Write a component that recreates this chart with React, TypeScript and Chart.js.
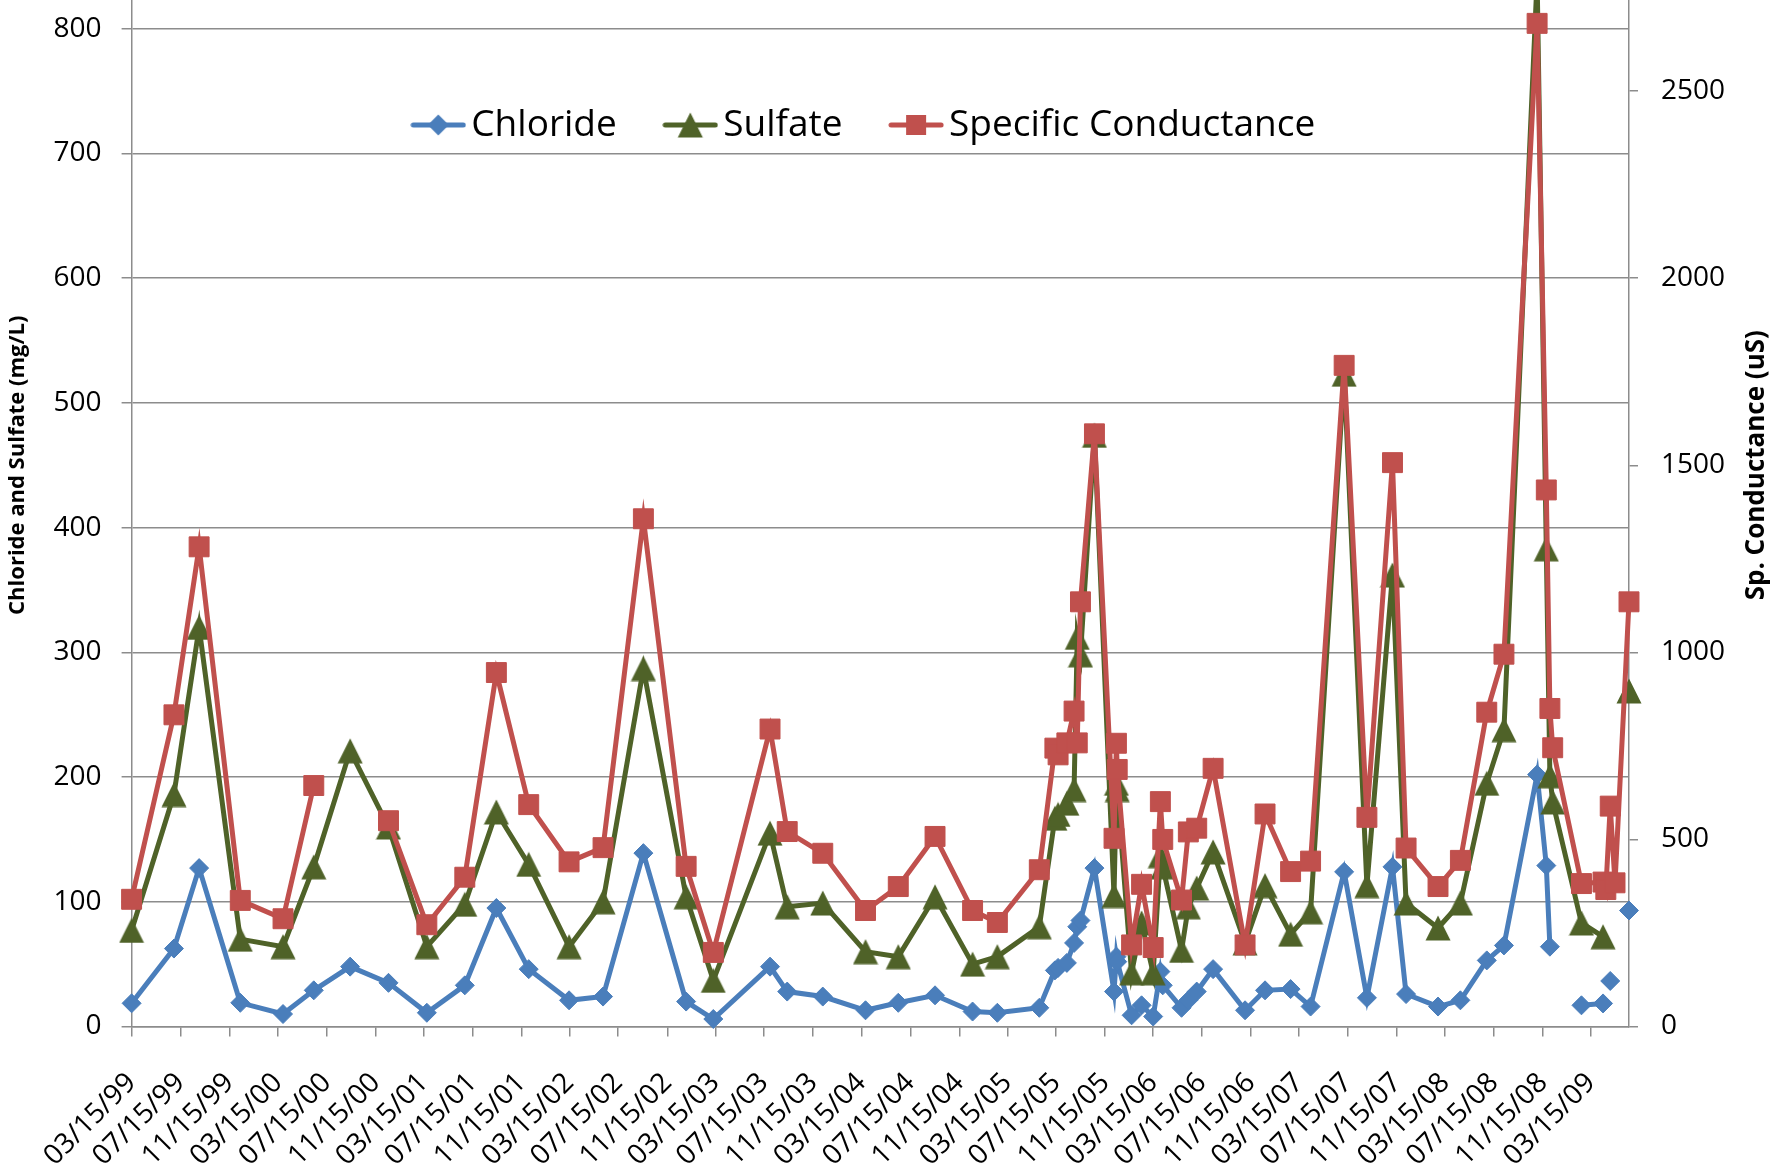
import React, { useEffect, useRef } from "react";
import { Chart, registerables } from "chart.js";

Chart.register(...registerables);

// ---------- data ----------
const sampleDates = [
  "1999-03-15", "1999-06-29", "1999-08-31", "1999-12-12", "2000-03-28", "2000-06-13",
  "2000-09-12", "2000-12-17", "2001-03-23", "2001-06-26", "2001-09-13", "2001-12-03",
  "2002-03-14", "2002-06-07", "2002-09-16", "2003-01-01", "2003-03-10", "2003-07-30",
  "2003-09-11", "2003-12-09", "2004-03-25", "2004-06-15", "2004-09-15", "2004-12-18",
  "2005-02-18", "2005-06-03", "2005-07-12", "2005-07-20", "2005-08-11", "2005-08-29",
  "2005-09-06", "2005-09-14", "2005-10-19", "2005-12-07", "2005-12-13", "2005-12-15",
  "2006-01-20", "2006-02-14", "2006-03-15", "2006-04-02", "2006-04-08", "2006-05-25",
  "2006-06-11", "2006-07-02", "2006-08-12", "2006-10-31", "2006-12-20", "2007-02-22",
  "2007-04-13", "2007-07-06", "2007-09-01", "2007-11-04", "2007-12-08", "2008-02-26",
  "2008-04-22", "2008-06-27", "2008-08-09", "2008-10-31", "2008-11-23", "2008-12-02",
  "2008-12-09", "2009-02-19", "2009-04-14", "2009-04-21", "2009-05-02", "2009-05-14",
  "2009-06-18",
];

const chloride: (number | null)[] = [
  18.6, 62.5, 127, 19, 10, 29,
  48, 35, 11, 33, 95, 46,
  21, 24, 139, 20, 6, 48,
  28, 24, 13, 19, 25, 12,
  11, 15, 45, 47, 51, 67,
  80, 85, 127, 28, 56, 52,
  9, 17, 8, 44, 33, 15,
  21, 28, 46, 13, 29, 30,
  16, 124, 23, 128, 26, 16,
  21, 53, 65, 202, 129, 64,
  null, 17, 18.5, null, 36.5, null,
  93,
];

const sulfate: (number | null)[] = [
  77, 186, 320, 70, 64, 128,
  221, 160, 64, 98, 172, 130,
  64, 100, 287, 104, 37, 155,
  96, 99, 60, 56, 104, 50,
  56, 80, 167, 170, 179, 190,
  312, 298, 474, 105, 195, 190,
  43, 83, 43, 137, 128, 61,
  96, 111, 140, 67, 113, 74,
  92, 523, 113, 362, 99, 79,
  99, 195, 238, 840, 383, 201,
  180, 83, 72, null, null, null,
  269,
];

const conductance: (number | null)[] = [
  340, 833, 1282, 337, 288, 644,
  null, 550, 272, 399, 946, 593,
  440, 478, 1357, 428, 198, 795,
  521, 463, 310, 374, 508, 310,
  278, 419, 744, 726, 758, 843,
  758, 1135, 1584, 503, 757, 687,
  218, 380, 211, 601, 500, 338,
  520, 530, 690, 218, 568, 414,
  442, 1767, 559, 1507, 477, 374,
  444, 840, 995, 2681, 1434, 850,
  745, 382, 386, 366, 589, 384,
  1135,
];

const xTickLabels = [
  "03/15/99", "07/15/99", "11/15/99", "03/15/00", "07/15/00", "11/15/00",
  "03/15/01", "07/15/01", "11/15/01", "03/15/02", "07/15/02", "11/15/02",
  "03/15/03", "07/15/03", "11/15/03", "03/15/04", "07/15/04", "11/15/04",
  "03/15/05", "07/15/05", "11/15/05", "03/15/06", "07/15/06", "11/15/06",
  "03/15/07", "07/15/07", "11/15/07", "03/15/08", "07/15/08", "11/15/08",
  "03/15/09",
];

const seriesNames = ["Chloride", "Sulfate", "Specific Conductance"];
const leftTitle = "Chloride and Sulfate (mg/L)";
const rightTitle = "Sp. Conductance (uS)";

// ---------- style ----------
const BLUE = "#4A7EBB";
const GREEN = "#4F6228";
const RED = "#C0504D";
const GRID = "#8C8C8C";
const FONT = "'Open Sans', sans-serif";
const LINE_W = 5;

const PAGE_W = 1787;
const PAGE_H = 1175;
const OFF = 250;
const CANVAS_H = PAGE_H + OFF;

const LEGEND_FONT = 37;
const LEGEND_PAD = 59;

const isoToDay = (s: string) => {
  const [y, m, d] = s.split("-").map(Number);
  return Date.UTC(y, m - 1, d) / 86400000;
};
const labelToDay = (s: string) => {
  const [m, d, y] = s.split("/").map(Number);
  return Date.UTC(y < 50 ? 2000 + y : 1900 + y, m - 1, d) / 86400000;
};

export default function App() {
  const ref = useRef<HTMLCanvasElement>(null);

  useEffect(() => {
    const canvas = ref.current;
    if (!canvas) return;

    const mk = (w: number, h: number, draw: (g: CanvasRenderingContext2D) => void) => {
      const c = document.createElement("canvas");
      c.width = w;
      c.height = h;
      const g = c.getContext("2d")!;
      draw(g);
      return c;
    };

    const triMarker = mk(26, 26, (g) => {
      g.fillStyle = GREEN;
      g.beginPath();
      g.moveTo(13, 0.5);
      g.lineTo(25.5, 25.5);
      g.lineTo(0.5, 25.5);
      g.closePath();
      g.fill();
    });

    const legendIcon = (color: string, kind: string) =>
      mk(56, 30, (g) => {
        g.strokeStyle = color;
        g.lineWidth = LINE_W;
        g.lineCap = "round";
        g.beginPath();
        g.moveTo(3, 15);
        g.lineTo(53, 15);
        g.stroke();
        g.fillStyle = color;
        g.beginPath();
        if (kind === "diamond") {
          g.moveTo(28, 4.5);
          g.lineTo(38.5, 15);
          g.lineTo(28, 25.5);
          g.lineTo(17.5, 15);
        } else if (kind === "triangle") {
          g.moveTo(28, 2.5);
          g.lineTo(40.5, 27.5);
          g.lineTo(15.5, 27.5);
        } else {
          g.rect(18, 5, 20, 20);
        }
        g.closePath();
        g.fill();
      });

    const icons = [
      legendIcon(BLUE, "diamond"),
      legendIcon(GREEN, "triangle"),
      legendIcon(RED, "square"),
    ];

    const days = sampleDates.map(isoToDay);
    const tickDays = xTickLabels.map(labelToDay);
    const pts = (vals: (number | null)[]) => days.map((x, i) => ({ x, y: vals[i] }));

    // chart area top sits 96px above the visible page (plot is cropped at the top)
    const CHART_TOP = OFF - 96;
    const legendBoxH = LEGEND_FONT + LEGEND_PAD + 10;
    const LEGEND_TOP = 297.5;
    const LEGEND_DX = -24;

    const legendMover = {
      id: "legendMover",
      afterLayout(chart: any) {
        const lg = chart.legend;
        if (!lg) return;
        const h = lg.bottom - lg.top;
        lg.top = LEGEND_TOP;
        lg.bottom = LEGEND_TOP + h;
        lg.left += LEGEND_DX;
        lg.right += LEGEND_DX;
      },
    };

    const rightTitlePlugin = {
      id: "rightTitle",
      afterDraw(chart: any) {
        const { ctx, chartArea } = chart;
        ctx.save();
        ctx.font = `bold 26px ${FONT}`;
        ctx.fillStyle = "#000";
        ctx.textAlign = "center";
        ctx.textBaseline = "middle";
        ctx.translate(1757, (chartArea.top + chartArea.bottom) / 2);
        ctx.rotate(-Math.PI / 2);
        ctx.fillText(rightTitle, 0, 0);
        ctx.restore();
      },
    };

    const common = {
      borderWidth: LINE_W,
      tension: 0,
      spanGaps: false,
      clip: false as any,
      pointBorderWidth: 1,
      pointHoverRadius: 0,
    };

    const chart = new Chart(canvas, {
      type: "line",
      data: {
        datasets: [
          {
            ...common,
            label: seriesNames[0],
            data: pts(chloride),
            yAxisID: "y",
            borderColor: BLUE,
            backgroundColor: BLUE,
            pointBackgroundColor: BLUE,
            pointBorderColor: BLUE,
            pointStyle: "rectRot",
            pointRadius: 9.5,
            order: 3,
          },
          {
            ...common,
            label: seriesNames[1],
            data: pts(sulfate),
            yAxisID: "y",
            borderColor: GREEN,
            backgroundColor: GREEN,
            pointBackgroundColor: GREEN,
            pointBorderColor: GREEN,
            pointStyle: triMarker as any,
            pointRadius: 13,
            order: 2,
          },
          {
            ...common,
            label: seriesNames[2],
            data: pts(conductance),
            yAxisID: "y2",
            borderColor: RED,
            backgroundColor: RED,
            pointBackgroundColor: RED,
            pointBorderColor: RED,
            pointStyle: "rect",
            pointRadius: 14.1,
            order: 1,
          },
        ],
      },
      options: {
        responsive: false,
        animation: false,
        devicePixelRatio: 1,
        events: [],
        layout: { padding: { top: CHART_TOP - legendBoxH, left: 0, right: 0, bottom: 0 } },
        plugins: {
          tooltip: { enabled: false },
          legend: {
            display: true,
            position: "top",
            labels: {
              font: { family: FONT, size: LEGEND_FONT },
              color: "#000",
              usePointStyle: true,
              pointStyleWidth: 29,
              padding: LEGEND_PAD,
              generateLabels: () =>
                seriesNames.map((name, i) => ({
                  text: name,
                  fillStyle: [BLUE, GREEN, RED][i],
                  strokeStyle: [BLUE, GREEN, RED][i],
                  lineWidth: 0,
                  pointStyle: icons[i] as any,
                  hidden: false,
                  datasetIndex: i,
                  fontColor: "#000",
                })),
            },
          },
        },
        scales: {
          x: {
            type: "linear",
            min: days[0],
            max: days[days.length - 1],
            afterBuildTicks: (axis: any) => {
              axis.ticks = tickDays.map((v) => ({ value: v }));
            },
            afterFit: (s: any) => {
              s.height = 148.5;
            },
            grid: {
              drawOnChartArea: false,
              drawTicks: true,
              tickLength: 10,
              color: GRID,
              lineWidth: 1.5,
            },
            border: { display: true, color: GRID, width: 1.5 },
            ticks: {
              autoSkip: false,
              maxRotation: 45,
              minRotation: 45,
              padding: 30,
              color: "#000",
              font: { family: FONT, size: 28 },
              callback: (_v: any, i: number) => xTickLabels[i],
            },
          },
          y: {
            position: "left",
            min: 0,
            max: 900,
            afterFit: (s: any) => {
              s.width = 131.6;
            },
            grid: { color: GRID, lineWidth: 1.5, drawTicks: true, tickLength: 10 },
            border: { display: true, color: GRID, width: 1.5 },
            ticks: {
              stepSize: 100,
              padding: 20,
              color: "#000",
              font: { family: FONT, size: 28 },
              callback: (v: any) => String(v),
            },
            title: {
              display: true,
              text: leftTitle,
              color: "#000",
              font: { family: FONT, size: 22, weight: "bold" },
              padding: { top: 4.8, bottom: 0 },
            },
          },
          y2: {
            position: "right",
            min: 0,
            max: 3000,
            afterFit: (s: any) => {
              s.width = 158;
            },
            grid: {
              drawOnChartArea: false,
              drawTicks: true,
              tickLength: 9,
              color: GRID,
              lineWidth: 1.5,
            },
            border: { display: true, color: GRID, width: 1.5 },
            ticks: {
              stepSize: 500,
              padding: 23,
              color: "#000",
              font: { family: FONT, size: 28 },
              callback: (v: any) => String(v),
            },
          },
        },
      } as any,
      plugins: [legendMover, rightTitlePlugin],
    });

    return () => chart.destroy();
  }, []);

  return (
    <div
      style={{
        position: "absolute",
        left: 0,
        top: 0,
        width: PAGE_W,
        height: PAGE_H,
        overflow: "hidden",
        background: "#fff",
      }}
    >
      <canvas
        ref={ref}
        width={PAGE_W}
        height={CANVAS_H}
        style={{ position: "absolute", left: 0, top: -OFF, width: PAGE_W, height: CANVAS_H }}
      />
    </div>
  );
}
